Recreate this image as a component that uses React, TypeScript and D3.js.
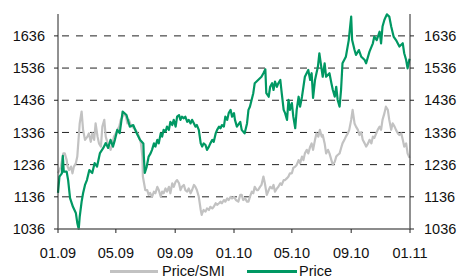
import * as d3 from 'd3'
import React from 'react'

// Price relative to SMI (grey) and absolute price (green)
const smiSeries: [string, number][] = [
  ["2009-01-01",1209],["2009-01-04",1219],["2009-01-07",1230],["2009-01-12",1271],["2009-01-15",1271],["2009-01-19",1250],
  ["2009-01-21",1230],["2009-01-24",1219],["2009-01-28",1230],["2009-01-31",1209],["2009-02-03",1230],["2009-02-07",1240],
  ["2009-02-10",1261],["2009-02-12",1302],["2009-02-15",1364],["2009-02-19",1401],["2009-02-22",1344],["2009-02-26",1313],
  ["2009-03-03",1323],["2009-03-06",1333],["2009-03-10",1307],["2009-03-13",1333],["2009-03-17",1313],["2009-03-20",1364],
  ["2009-03-24",1323],["2009-03-27",1302],["2009-03-31",1292],["2009-04-03",1354],["2009-04-07",1375],["2009-04-10",1323],
  ["2009-04-14",1302],["2009-04-17",1292],["2009-04-20",1282],["2009-04-24",1302],["2009-04-27",1323],["2009-05-01",1333],
  ["2009-05-04",1344],["2009-05-08",1354],["2009-05-11",1375],["2009-05-15",1385],["2009-05-18",1396],["2009-05-22",1385],
  ["2009-05-25",1364],["2009-05-28",1375],["2009-06-01",1359],["2009-06-04",1354],["2009-06-11",1344],["2009-06-15",1333],
  ["2009-06-18",1323],["2009-06-22",1302],["2009-06-25",1261],["2009-06-26",1199],["2009-07-01",1157],["2009-07-05",1157],
  ["2009-07-08",1142],["2009-07-11",1148],["2009-07-15",1136],["2009-07-19",1152],["2009-07-22",1147],["2009-07-26",1167],
  ["2009-07-29",1157],["2009-08-02",1136],["2009-08-05",1152],["2009-08-08",1147],["2009-08-12",1162],["2009-08-15",1152],
  ["2009-08-19",1167],["2009-08-22",1147],["2009-08-26",1178],["2009-08-29",1167],["2009-09-02",1183],["2009-09-05",1188],
  ["2009-09-09",1178],["2009-09-12",1157],["2009-09-15",1167],["2009-09-19",1173],["2009-09-22",1157],["2009-09-26",1152],
  ["2009-09-29",1162],["2009-10-03",1147],["2009-10-06",1157],["2009-10-10",1173],["2009-10-13",1167],["2009-10-16",1157],
  ["2009-10-20",1136],["2009-10-24",1095],["2009-10-26",1080],["2009-10-27",1085],["2009-10-30",1095],["2009-11-03",1090],
  ["2009-11-06",1100],["2009-11-10",1095],["2009-11-13",1105],["2009-11-17",1100],["2009-11-20",1105],["2009-11-24",1116],
  ["2009-11-27",1111],["2009-12-01",1116],["2009-12-04",1121],["2009-12-07",1116],["2009-12-11",1126],["2009-12-14",1121],
  ["2009-12-18",1131],["2009-12-21",1126],["2009-12-25",1136],["2009-12-28",1131],["2010-01-01",1136],["2010-01-05",1126],
  ["2010-01-10",1121],["2010-01-14",1142],["2010-01-17",1142],["2010-01-20",1126],["2010-01-24",1131],["2010-01-28",1121],
  ["2010-01-31",1121],["2010-02-03",1136],["2010-02-07",1152],["2010-02-10",1147],["2010-02-13",1167],["2010-02-17",1157],
  ["2010-02-20",1157],["2010-02-24",1167],["2010-02-27",1173],["2010-03-03",1199],["2010-03-06",1178],["2010-03-10",1142],
  ["2010-03-14",1157],["2010-03-17",1167],["2010-03-21",1162],["2010-03-24",1173],["2010-03-27",1152],["2010-03-31",1162],
  ["2010-04-03",1167],["2010-04-07",1178],["2010-04-10",1173],["2010-04-14",1188],["2010-04-17",1188],["2010-04-21",1194],
  ["2010-04-24",1199],["2010-04-27",1209],["2010-05-01",1209],["2010-05-04",1226],["2010-05-08",1230],["2010-05-11",1235],
  ["2010-05-15",1250],["2010-05-18",1240],["2010-05-22",1261],["2010-05-25",1250],["2010-05-28",1271],["2010-06-01",1282],
  ["2010-06-04",1271],["2010-06-08",1292],["2010-06-11",1302],["2010-06-14",1282],["2010-06-18",1313],["2010-06-21",1333],
  ["2010-06-25",1323],["2010-06-28",1344],["2010-07-02",1323],["2010-07-04",1328],["2010-07-08",1302],["2010-07-11",1271],
  ["2010-07-15",1282],["2010-07-18",1271],["2010-07-22",1250],["2010-07-25",1235],["2010-07-29",1245],["2010-08-01",1261],
  ["2010-08-04",1266],["2010-08-08",1271],["2010-08-11",1287],["2010-08-14",1302],["2010-08-18",1313],["2010-08-21",1323],
  ["2010-08-25",1333],["2010-08-28",1344],["2010-09-01",1375],["2010-09-04",1406],["2010-09-08",1364],["2010-09-11",1354],
  ["2010-09-15",1344],["2010-09-18",1328],["2010-09-22",1337],["2010-09-25",1313],["2010-09-29",1302],["2010-10-02",1292],
  ["2010-10-06",1302],["2010-10-09",1313],["2010-10-13",1302],["2010-10-16",1323],["2010-10-19",1319],["2010-10-23",1333],
  ["2010-10-26",1344],["2010-10-30",1354],["2010-11-02",1344],["2010-11-05",1375],["2010-11-09",1396],["2010-11-12",1416],
  ["2010-11-16",1406],["2010-11-19",1375],["2010-11-23",1344],["2010-11-26",1364],["2010-11-30",1354],["2010-12-03",1344],
  ["2010-12-07",1333],["2010-12-10",1328],["2010-12-14",1333],["2010-12-17",1313],["2010-12-20",1292],["2010-12-24",1302],
  ["2010-12-27",1271],["2010-12-31",1257],
]

const priceSeries: [string, number][] = [
  ["2009-01-01",1148],["2009-01-04",1199],["2009-01-09",1209],["2009-01-11",1263],["2009-01-13",1214],["2009-01-19",1214],
  ["2009-01-22",1188],["2009-01-26",1132],["2009-02-01",1105],["2009-02-07",1086],["2009-02-10",1055],["2009-02-13",1036],
  ["2009-02-15",1074],["2009-02-19",1121],["2009-02-22",1147],["2009-02-26",1173],["2009-03-02",1188],["2009-03-07",1219],
  ["2009-03-13",1210],["2009-03-18",1241],["2009-03-23",1230],["2009-03-29",1272],["2009-04-05",1288],["2009-04-10",1303],
  ["2009-04-15",1288],["2009-04-20",1313],["2009-04-25",1292],["2009-04-29",1313],["2009-05-04",1344],["2009-05-09",1334],
  ["2009-05-15",1401],["2009-05-23",1390],["2009-05-30",1354],["2009-06-06",1359],["2009-06-13",1334],["2009-06-20",1313],
  ["2009-06-27",1302],["2009-06-28",1261],["2009-06-30",1210],["2009-07-04",1230],["2009-07-08",1261],["2009-07-12",1271],
  ["2009-07-15",1282],["2009-07-19",1302],["2009-07-22",1292],["2009-07-26",1313],["2009-07-29",1302],["2009-08-02",1333],
  ["2009-08-05",1323],["2009-08-08",1344],["2009-08-12",1338],["2009-08-15",1354],["2009-08-19",1344],["2009-08-22",1369],
  ["2009-08-26",1359],["2009-08-29",1375],["2009-09-02",1354],["2009-09-05",1385],["2009-09-09",1390],["2009-09-12",1375],
  ["2009-09-15",1385],["2009-09-19",1380],["2009-09-22",1385],["2009-09-26",1369],["2009-09-29",1375],["2009-10-03",1364],
  ["2009-10-06",1375],["2009-10-10",1364],["2009-10-13",1354],["2009-10-16",1359],["2009-10-20",1344],["2009-10-24",1302],
  ["2009-10-27",1292],["2009-10-30",1302],["2009-11-03",1297],["2009-11-06",1282],["2009-11-10",1292],["2009-11-13",1302],
  ["2009-11-17",1313],["2009-11-20",1307],["2009-11-24",1333],["2009-11-27",1344],["2009-12-01",1354],["2009-12-04",1349],
  ["2009-12-07",1359],["2009-12-11",1354],["2009-12-14",1385],["2009-12-18",1375],["2009-12-21",1396],["2009-12-25",1406],
  ["2009-12-28",1385],["2010-01-01",1396],["2010-01-03",1375],["2010-01-07",1354],["2010-01-14",1369],["2010-01-17",1344],
  ["2010-01-23",1333],["2010-01-28",1364],["2010-01-31",1406],["2010-02-03",1416],["2010-02-10",1458],["2010-02-13",1489],
  ["2010-02-20",1499],["2010-02-27",1509],["2010-03-03",1520],["2010-03-07",1532],["2010-03-09",1458],["2010-03-14",1447],
  ["2010-03-17",1478],["2010-03-21",1489],["2010-03-24",1468],["2010-03-27",1494],["2010-03-31",1478],["2010-04-03",1489],
  ["2010-04-07",1499],["2010-04-10",1458],["2010-04-14",1406],["2010-04-17",1396],["2010-04-21",1375],["2010-04-24",1437],
  ["2010-04-27",1406],["2010-05-01",1427],["2010-05-04",1385],["2010-05-08",1349],["2010-05-11",1406],["2010-05-15",1447],
  ["2010-05-18",1416],["2010-05-22",1447],["2010-05-25",1478],["2010-05-28",1509],["2010-06-04",1530],["2010-06-08",1499],
  ["2010-06-11",1520],["2010-06-14",1443],["2010-06-18",1499],["2010-06-21",1520],["2010-06-24",1540],["2010-06-27",1582],
  ["2010-07-01",1540],["2010-07-04",1509],["2010-07-08",1551],["2010-07-11",1509],["2010-07-18",1520],["2010-07-22",1489],
  ["2010-07-25",1468],["2010-07-29",1447],["2010-08-01",1478],["2010-08-04",1437],["2010-08-08",1416],["2010-08-11",1468],
  ["2010-08-14",1551],["2010-08-21",1571],["2010-08-27",1623],["2010-09-01",1696],["2010-09-03",1623],["2010-09-08",1592],
  ["2010-09-11",1577],["2010-09-17",1592],["2010-09-22",1571],["2010-09-29",1561],["2010-10-02",1551],["2010-10-09",1587],
  ["2010-10-16",1613],["2010-10-19",1634],["2010-10-24",1623],["2010-10-30",1649],["2010-11-02",1613],["2010-11-05",1665],
  ["2010-11-09",1686],["2010-11-14",1703],["2010-11-19",1696],["2010-11-23",1665],["2010-11-28",1634],["2010-12-03",1623],
  ["2010-12-10",1603],["2010-12-17",1613],["2010-12-20",1582],["2010-12-24",1561],["2010-12-27",1535],["2010-12-31",1565],
]

const yTicks = [1036, 1136, 1236, 1336, 1436, 1536, 1636]
const xTicks = ["2009-01-01", "2009-05-01", "2009-09-01", "2010-01-01", "2010-05-01", "2010-09-01", "2011-01-01"]
const legendLabels = ["Price/SMI", "Price"]
const seriesColors = ["#c2c2c2", "#009863"]

const W = 459
const H = 277
const left = 58
const right = 410
const top = 14
const bottom = 229
const font = "'Liberation Sans', Arial, sans-serif"

const parse = d3.timeParse('%Y-%m-%d')
const fmt = d3.timeFormat('%m.%y')

const App = () => {
  const x = d3.scaleTime()
    .domain([parse('2009-01-01') as Date, parse('2011-01-01') as Date])
    .range([left, right])
  const y = d3.scaleLinear().domain([1036, 1704]).range([bottom, top])

  const line = d3.line<[string, number]>()
    .x(d => x(parse(d[0]) as Date))
    .y(d => y(d[1]))

  const series = [smiSeries, priceSeries]

  return (
    <svg width={W} height={H} style={{ position: 'absolute', left: 0, top: 0, background: '#fff' }}>
      {/* gridlines */}
      {yTicks.slice(1).map(t => (
        <line key={'g' + t} x1={left + 4} x2={right} y1={y(t)} y2={y(t)}
          stroke="#222" strokeWidth={1} strokeDasharray="7,7" />
      ))}

      {series.map((s, i) => (
        <path key={legendLabels[i]} d={line(s) || ''} fill="none" stroke={seriesColors[i]}
          strokeWidth={2.2} strokeLinejoin="round" />
      ))}

      {/* axes */}
      <line x1={left} x2={left} y1={top} y2={bottom} stroke="#222" />
      <line x1={right} x2={right} y1={top} y2={bottom} stroke="#222" />
      <line x1={left} x2={right} y1={bottom} y2={bottom} stroke="#666" strokeWidth={1.5} />

      {yTicks.map(t => (
        <g key={'y' + t}>
          <line x1={left - 4} x2={left} y1={y(t)} y2={y(t)} stroke="#222" />
          <line x1={right} x2={right + 4} y1={y(t)} y2={y(t)} stroke="#222" />
          <text x={left - 13} y={y(t)} dy="0.36em" textAnchor="end" fontFamily={font} fontSize={14.5} fill="#111">{t}</text>
          <text x={right + 14} y={y(t)} dy="0.36em" textAnchor="start" fontFamily={font} fontSize={14.5} fill="#111">{t}</text>
        </g>
      ))}

      {xTicks.map(s => {
        const d = parse(s) as Date
        return (
          <g key={s}>
            <line x1={x(d)} x2={x(d)} y1={bottom} y2={bottom + 4} stroke="#222" />
            <text x={x(d)} y={257.5} textAnchor="middle" fontFamily={font} fontSize={14.5} fill="#111">{fmt(d)}</text>
          </g>
        )
      })}

      {/* legend */}
      <line x1={110} x2={158} y1={271.5} y2={271.5} stroke={seriesColors[0]} strokeWidth={3} />
      <text x={162} y={275.5} fontFamily={font} fontSize={14.5} fill="#111">{legendLabels[0]}</text>
      <line x1={247} x2={297} y1={271.5} y2={271.5} stroke={seriesColors[1]} strokeWidth={3} />
      <text x={299} y={275.5} fontFamily={font} fontSize={14.5} fill="#111">{legendLabels[1]}</text>
    </svg>
  )
}

export default App
